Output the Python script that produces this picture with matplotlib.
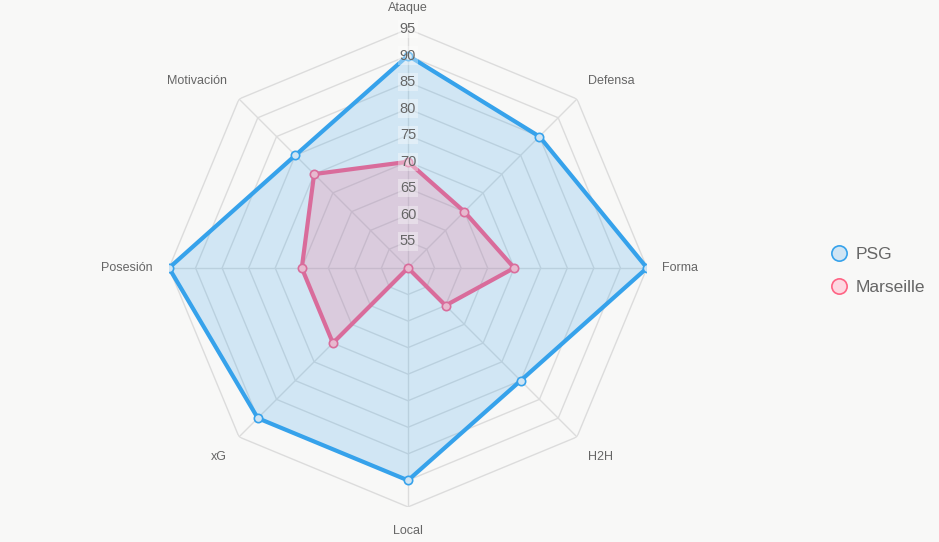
import numpy as np
import matplotlib
matplotlib.use("Agg")
import matplotlib.pyplot as plt
from matplotlib.lines import Line2D

plt.rcParams["font.family"] = ["Liberation Sans", "DejaVu Sans"]

categories = ["Ataque", "Defensa", "Forma", "H2H", "Local", "xG", "Posesión", "Motivación"]
psg = [90, 85, 95, 80, 90, 90, 95, 80]
marseille = [70, 65, 70, 60, 50, 70, 70, 75]
ticks = [55, 60, 65, 70, 75, 80, 85, 90, 95]
r_min, r_max = 50, 95

bg = "#f8f8f7"
blue = "#36a2eb"
pink = "#d96c9b"

fig = plt.figure(figsize=(9.39, 5.42), dpi=100, facecolor=bg)
ax = fig.add_axes([0.18, 0.0646, 0.509, 0.882], projection="polar")
ax.set_facecolor(bg)
ax.set_theta_zero_location("N")
ax.set_theta_direction(-1)
ax.set_ylim(r_min, r_max)
ax.grid(False)
ax.spines["polar"].set_visible(False)
ax.set_xticks([])
ax.set_yticks([])
ax.patch.set_alpha(0)

n = len(categories)
theta = np.arange(n) * 2 * np.pi / n
theta_c = np.append(theta, theta[0])

# polygon grid
for t in ticks:
    ax.plot(theta_c, [t] * (n + 1), color="#dcdcdc", lw=1, zorder=1)
for th in theta:
    ax.plot([th, th], [r_min, r_max], color="#dcdcdc", lw=1, zorder=1)

def closed(v):
    return np.append(v, v[0])

ax.fill(theta_c, closed(psg), color=blue, alpha=0.2, zorder=2, lw=0)
ax.plot(theta_c, closed(psg), color=blue, lw=3, zorder=4)
ax.plot(theta, psg, ls="none", marker="o", ms=6, mfc="#cfe4f3", mec=blue, mew=1.2, zorder=5)

ax.fill(theta_c, closed(marseille), color="#ff6384", alpha=0.2, zorder=3, lw=0)
ax.plot(theta_c, closed(marseille), color=pink, lw=3, zorder=4)
ax.plot(theta, marseille, ls="none", marker="o", ms=6, mfc="#e7b9cf", mec=pink, mew=1.2, zorder=5)

# tick labels
for t in ticks:
    ax.text(0, t, str(t), ha="center", va="center", fontsize=10.5, color="#666666", zorder=6,
            bbox=dict(boxstyle="square,pad=0.15", fc="white", ec="none", alpha=0.35))

# category labels (pixel offsets from the outer vertex)
offsets = [(0, 21, "center"), (11, 18, "left"), (15, 0, "left"), (11, -20, "left"),
           (0, -24, "center"), (-12, -20, "right"), (-16, 0, "right"), (-12, 18, "right")]
for th, lab, (dx, dy, ha) in zip(theta, categories, offsets):
    ax.annotate(lab, xy=(th, r_max), xytext=(dx, dy), textcoords="offset pixels",
                ha=ha, va="center", fontsize=9, color="#666666", annotation_clip=False)

handles = [
    Line2D([], [], ls="none", marker="o", ms=11, mfc="#d0e5f4", mec=blue, mew=1.2, label="PSG"),
    Line2D([], [], ls="none", marker="o", ms=11, mfc="#fdd8e1", mec="#ff6384", mew=1.2, label="Marseille"),
]
fig.legend(handles=handles, loc="center left", bbox_to_anchor=(0.882, 0.5), frameon=False,
           fontsize=12.5, labelcolor="#666666", handletextpad=0.4, labelspacing=1.0,
           borderpad=0, borderaxespad=0, handlelength=1.2)

fig.savefig("out.png", dpi=100, facecolor=bg)
